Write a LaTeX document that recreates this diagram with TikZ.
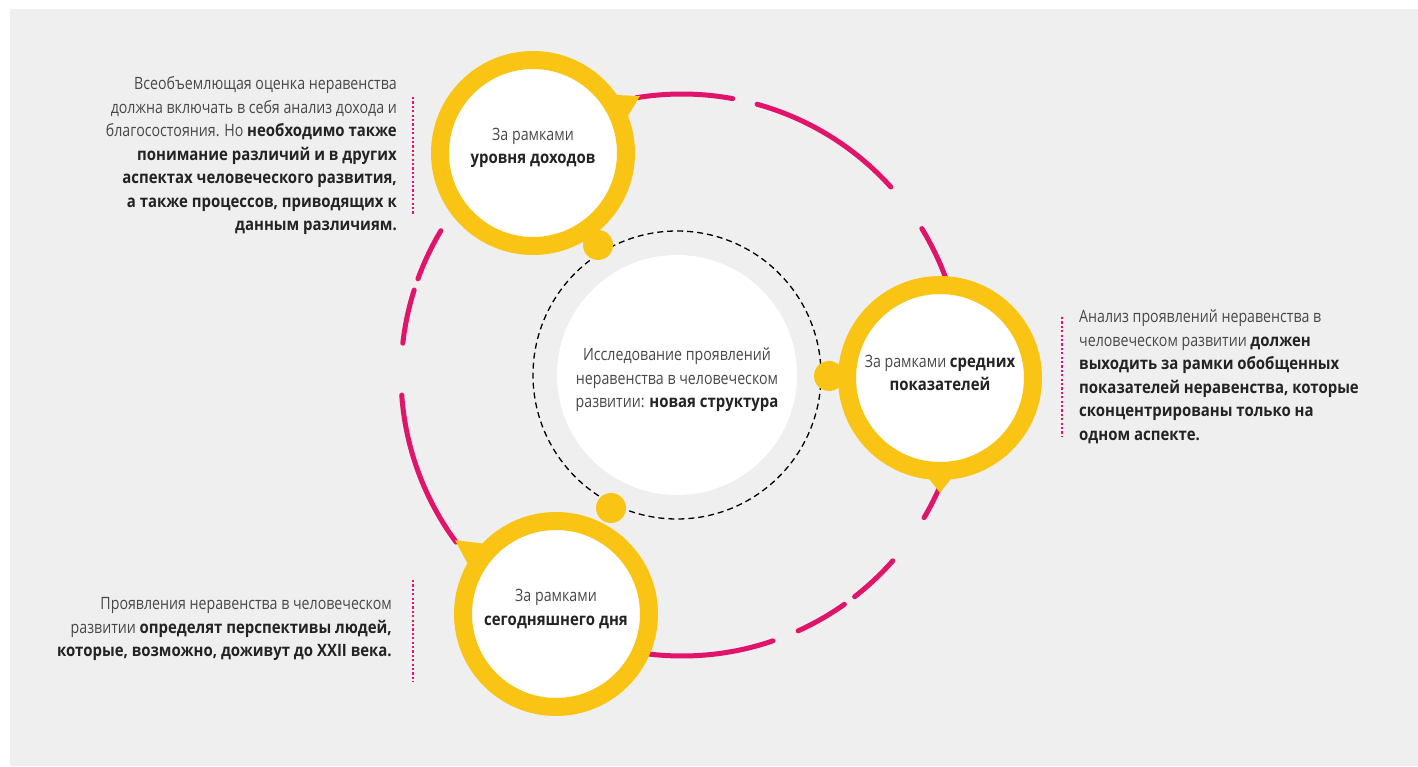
\documentclass[tikz,border=0pt]{standalone}
\usepackage{fontspec}
\setmainfont[FakeStretch=0.835, BoldFeatures={FakeStretch=0.88}]{Open Sans}
\usepackage{xcolor}
\usepackage{tikz}
\usetikzlibrary{positioning, calc}

\definecolor{bggray}{RGB}{239,239,239}
\definecolor{ringyellow}{RGB}{250,196,21}
\definecolor{linepink}{RGB}{224,20,106}
\definecolor{txtdark}{RGB}{35,35,35}
\definecolor{txtgray}{RGB}{72,72,72}
\newcommand{\boldpart}[1]{\textbf{\color{txtdark}#1}}

\begin{document}
\begin{tikzpicture}[x=1pt, y=1pt,
    every node/.style={font=\fontsize{17}{23.5}\selectfont, text=txtgray},
    ring/.style={circle, draw=ringyellow, line width=18pt, fill=white, minimum size=186pt, inner sep=0pt},
    knob/.style={circle, fill=ringyellow, minimum size=30pt, inner sep=0pt},
    pinkarc/.style={draw=linepink, line width=5pt, line cap=round},
    dotline/.style={draw=linepink, line width=2.6pt, dash pattern=on 2.2pt off 2.2pt},
    note/.style={inner sep=0pt}]
    \useasboundingbox (0,0) rectangle (1418,766);
    \fill[bggray] (10,0) rectangle (1418,757);

    % outer pink ring, broken in pieces
    \coordinate (pc) at (682,391);
    \foreach \a/\b in {99.4/79.6, 74.5/42, 31.4/10, -24/-30.5, -41.4/-52.1, -54.7/-65.6, -71.1/-100, 216.5/184.1, 173.5/162.4, 160/149.1}
        \draw[pinkarc] (pc) ++(\a:281) arc[start angle=\a, end angle=\b, radius=281];

    % centre
    \node[circle, draw=black, line width=1.3pt, dash pattern=on 6pt off 4pt, minimum size=288pt, inner sep=0pt] (frame) at (677,391) {};
    \node[circle, fill=white, minimum size=240pt, inner sep=0pt] (core) at (677,391) {};
    \node[align=center] (coretext) at ([yshift=-5]core.center)
        {Исследование проявлений\\неравенства в человеческом\\развитии: \boldpart{новая структура}};
    \node[knob] (knobA) at (598,521) {};
    \node[knob] (knobB) at (829,390) {};
    \node[knob] (knobC) at (611,258) {};

    % three yellow circles with their tails
    \node[ring] (income) at (533,613) {};
    \node[ring] (average) at (940,388) {};
    \node[ring] (today) at (556,152) {};
    \fill[ringyellow] ($(income)+(18:95)$) -- ($(income)+(28:121)$) -- ($(income)+(38:95)$) -- cycle;
    \fill[ringyellow] ($(average)+(-100:95)$) -- ($(average)+(-90:115)$) -- ($(average)+(-80:95)$) -- cycle;
    \fill[ringyellow] ($(today)+(133:95)$) -- ($(today)+(143.8:125)$) -- ($(today)+(153:95)$) -- cycle;
    \node[align=center] (incometext) at ([yshift=5]income.center) {За рамками\\\boldpart{уровня доходов}};
    \node[align=center] (averagetext) at ([yshift=5]average.center) {За рамками \boldpart{средних}\\\boldpart{показателей}};
    \node[align=center] (todaytext) at ([yshift=5]today.center) {За рамками\\\boldpart{сегодняшнего дня}};

    % side notes
    \node[note, anchor=east, align=right] (noteincome) at (397,610)
        {Всеобъемлющая оценка неравенства\\должна включать в себя анализ дохода и\\благосостояния. Но \boldpart{необходимо также}\\\boldpart{понимание различий и в других}\\\boldpart{аспектах человеческого развития,}\\\boldpart{а также процессов, приводящих к}\\\boldpart{данным различиям.}};
    \node[note, anchor=west, align=left] (noteaverage) at (1079,389.5)
        {Анализ проявлений неравенства в\\человеческом развитии \boldpart{должен}\\\boldpart{выходить за рамки обобщенных}\\\boldpart{показателей неравенства, которые}\\\boldpart{сконцентрированы только на}\\\boldpart{одном аспекте.}};
    \node[note, anchor=east, align=right] (notetoday) at (392,137)
        {Проявления неравенства в человеческом\\развитии \boldpart{определят перспективы людей,}\\\boldpart{которые, возможно, доживут до XXII века.}};

    \coordinate (markA1) at (413,669);
    \coordinate (markA2) at (413,551);
    \coordinate (markB1) at (1062,449);
    \coordinate (markB2) at (1062,330);
    \coordinate (markC1) at (413,186);
    \coordinate (markC2) at (413,84);
    \draw[dotline] (markA1) -- (markA2);
    \draw[dotline] (markB1) -- (markB2);
    \draw[dotline] (markC1) -- (markC2);
\end{tikzpicture}
\end{document}
